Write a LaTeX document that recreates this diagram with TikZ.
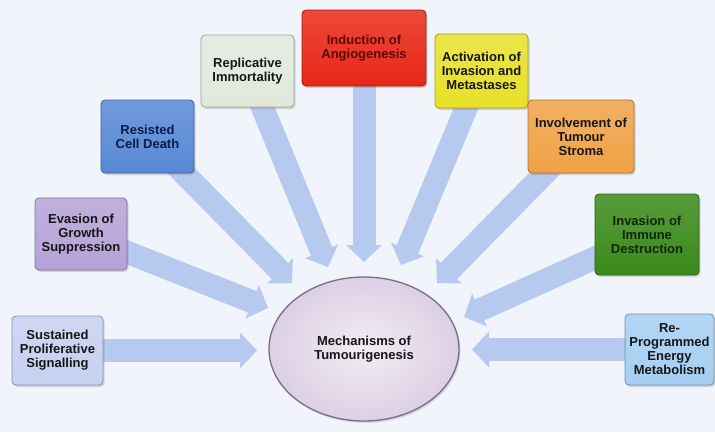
\documentclass[tikz,border=0pt]{standalone}
\usepackage{fontspec}
\setmainfont{Liberation Sans}[BoldFont={Liberation Sans Bold}]
\usetikzlibrary{arrows.meta,shadows,shapes.geometric}

\definecolor{pagebg}{RGB}{241,245,251}
\definecolor{flow}{RGB}{182,201,239}
\definecolor{cSust}{RGB}{198,208,240}
\definecolor{cEvas}{RGB}{182,162,216}
\definecolor{cResi}{RGB}{88,136,214}
\definecolor{cRepl}{RGB}{226,232,220}
\definecolor{cIndu}{RGB}{232,40,24}
\definecolor{cActi}{RGB}{232,224,40}
\definecolor{cStro}{RGB}{240,162,70}
\definecolor{cImmu}{RGB}{58,138,26}
\definecolor{cRepr}{RGB}{166,206,242}
\definecolor{txtDark}{RGB}{22,22,22}
\definecolor{hubFill}{RGB}{220,208,228}
\definecolor{hubEdge}{RGB}{125,106,136}

\pgfdeclarelayer{bg}
\pgfdeclarelayer{paper}
\pgfsetlayers{paper,bg,main}

\tikzset{
  hallmark/.style={rectangle, rounded corners=4pt, inner sep=1pt, align=center,
    font=\bfseries\fontsize{13}{14}\selectfont, text=txtDark, line width=0.8pt,
    top color=#1!85!white, bottom color=#1, draw=#1!70!black,
    drop shadow={shadow xshift=1.5pt, shadow yshift=-2pt, opacity=0.3}},
  hub/.style={ellipse, inner sep=0pt, align=center,
    font=\bfseries\fontsize{13}{14}\selectfont, text=txtDark,
    inner color=white!60!hubFill, outer color=hubFill, draw=hubEdge, line width=1.3pt,
    drop shadow={shadow xshift=1.5pt, shadow yshift=-2pt, opacity=0.25}},
  feed/.style={draw=flow, line width=23pt,
    -{Triangle[width=36pt, length=17pt, line width=0pt]}}
}

\begin{document}
\begin{tikzpicture}[x=1pt, y=-1pt]
  \begin{pgfonlayer}{paper}
    \fill[pagebg] (0,0) rectangle (715,432);
  \end{pgfonlayer}
  \useasboundingbox (0,0) rectangle (715,432);

  % central hub
  \node[hub, minimum width=190pt, minimum height=144pt] (mech) at (364,349)
    {Mechanisms of\\Tumourigenesis};

  % the nine hallmark boxes
  \node[hallmark=cSust, minimum width=91pt, minimum height=69pt] (sust) at (57.5,350.5)
    {Sustained\\Proliferative\\Signalling};
  \node[hallmark=cEvas, minimum width=92pt, minimum height=72pt] (evas) at (81,234)
    {Evasion of\\Growth\\Suppression};
  \node[hallmark=cResi, minimum width=93pt, minimum height=73pt, text={rgb,255:red,12;green,28;blue,72}] (resi) at (147.5,136.5)
    {Resisted\\Cell Death};
  \node[hallmark=cRepl, minimum width=93pt, minimum height=72pt] (repl) at (247.5,71)
    {Replicative\\Immortality};
  \node[hallmark=cIndu, minimum width=124pt, minimum height=76pt, text={rgb,255:red,90;green,8;blue,8}] (indu) at (364,48)
    {Induction of\\Angiogenesis};
  \node[hallmark=cActi, minimum width=93pt, minimum height=74pt] (acti) at (481.5,71)
    {Activation of\\Invasion and\\Metastases};
  \node[hallmark=cStro, minimum width=106pt, minimum height=73pt] (stro) at (581,136.5)
    {Involvement of\\Tumour\\Stroma};
  \node[hallmark=cImmu, minimum width=104pt, minimum height=81pt, text={rgb,255:red,14;green,40;blue,6}] (immu) at (647,234.5)
    {Invasion of\\Immune\\Destruction};
  \node[hallmark=cRepr, minimum width=89pt, minimum height=71pt] (repr) at (669.5,349.5)
    {Re-\\Programmed\\Energy\\Metabolism};

  % arrow tips just short of the hub
  \coordinate (tSust) at (257,350.5);
  \coordinate (tEvas) at (268,308);
  \coordinate (tResi) at (292,283);
  \coordinate (tRepl) at (328,267);
  \coordinate (tIndu) at (364,262);
  \coordinate (tActi) at (401,265);
  \coordinate (tStro) at (437,283);
  \coordinate (tImmu) at (464,317);
  \coordinate (tRepr) at (472,349.5);

  % broad arrows running behind the boxes
  \begin{pgfonlayer}{bg}
    \draw[feed] (sust.center) -- (tSust);
    \draw[feed] (evas.center) -- (tEvas);
    \draw[feed] (resi.center) -- (tResi);
    \draw[feed] (repl.center) -- (tRepl);
    \draw[feed] (indu.center) -- (tIndu);
    \draw[feed] (acti.center) -- (tActi);
    \draw[feed] (stro.center) -- (tStro);
    \draw[feed] (immu.center) -- (tImmu);
    \draw[feed] (repr.center) -- (tRepr);
  \end{pgfonlayer}
\end{tikzpicture}
\end{document}
